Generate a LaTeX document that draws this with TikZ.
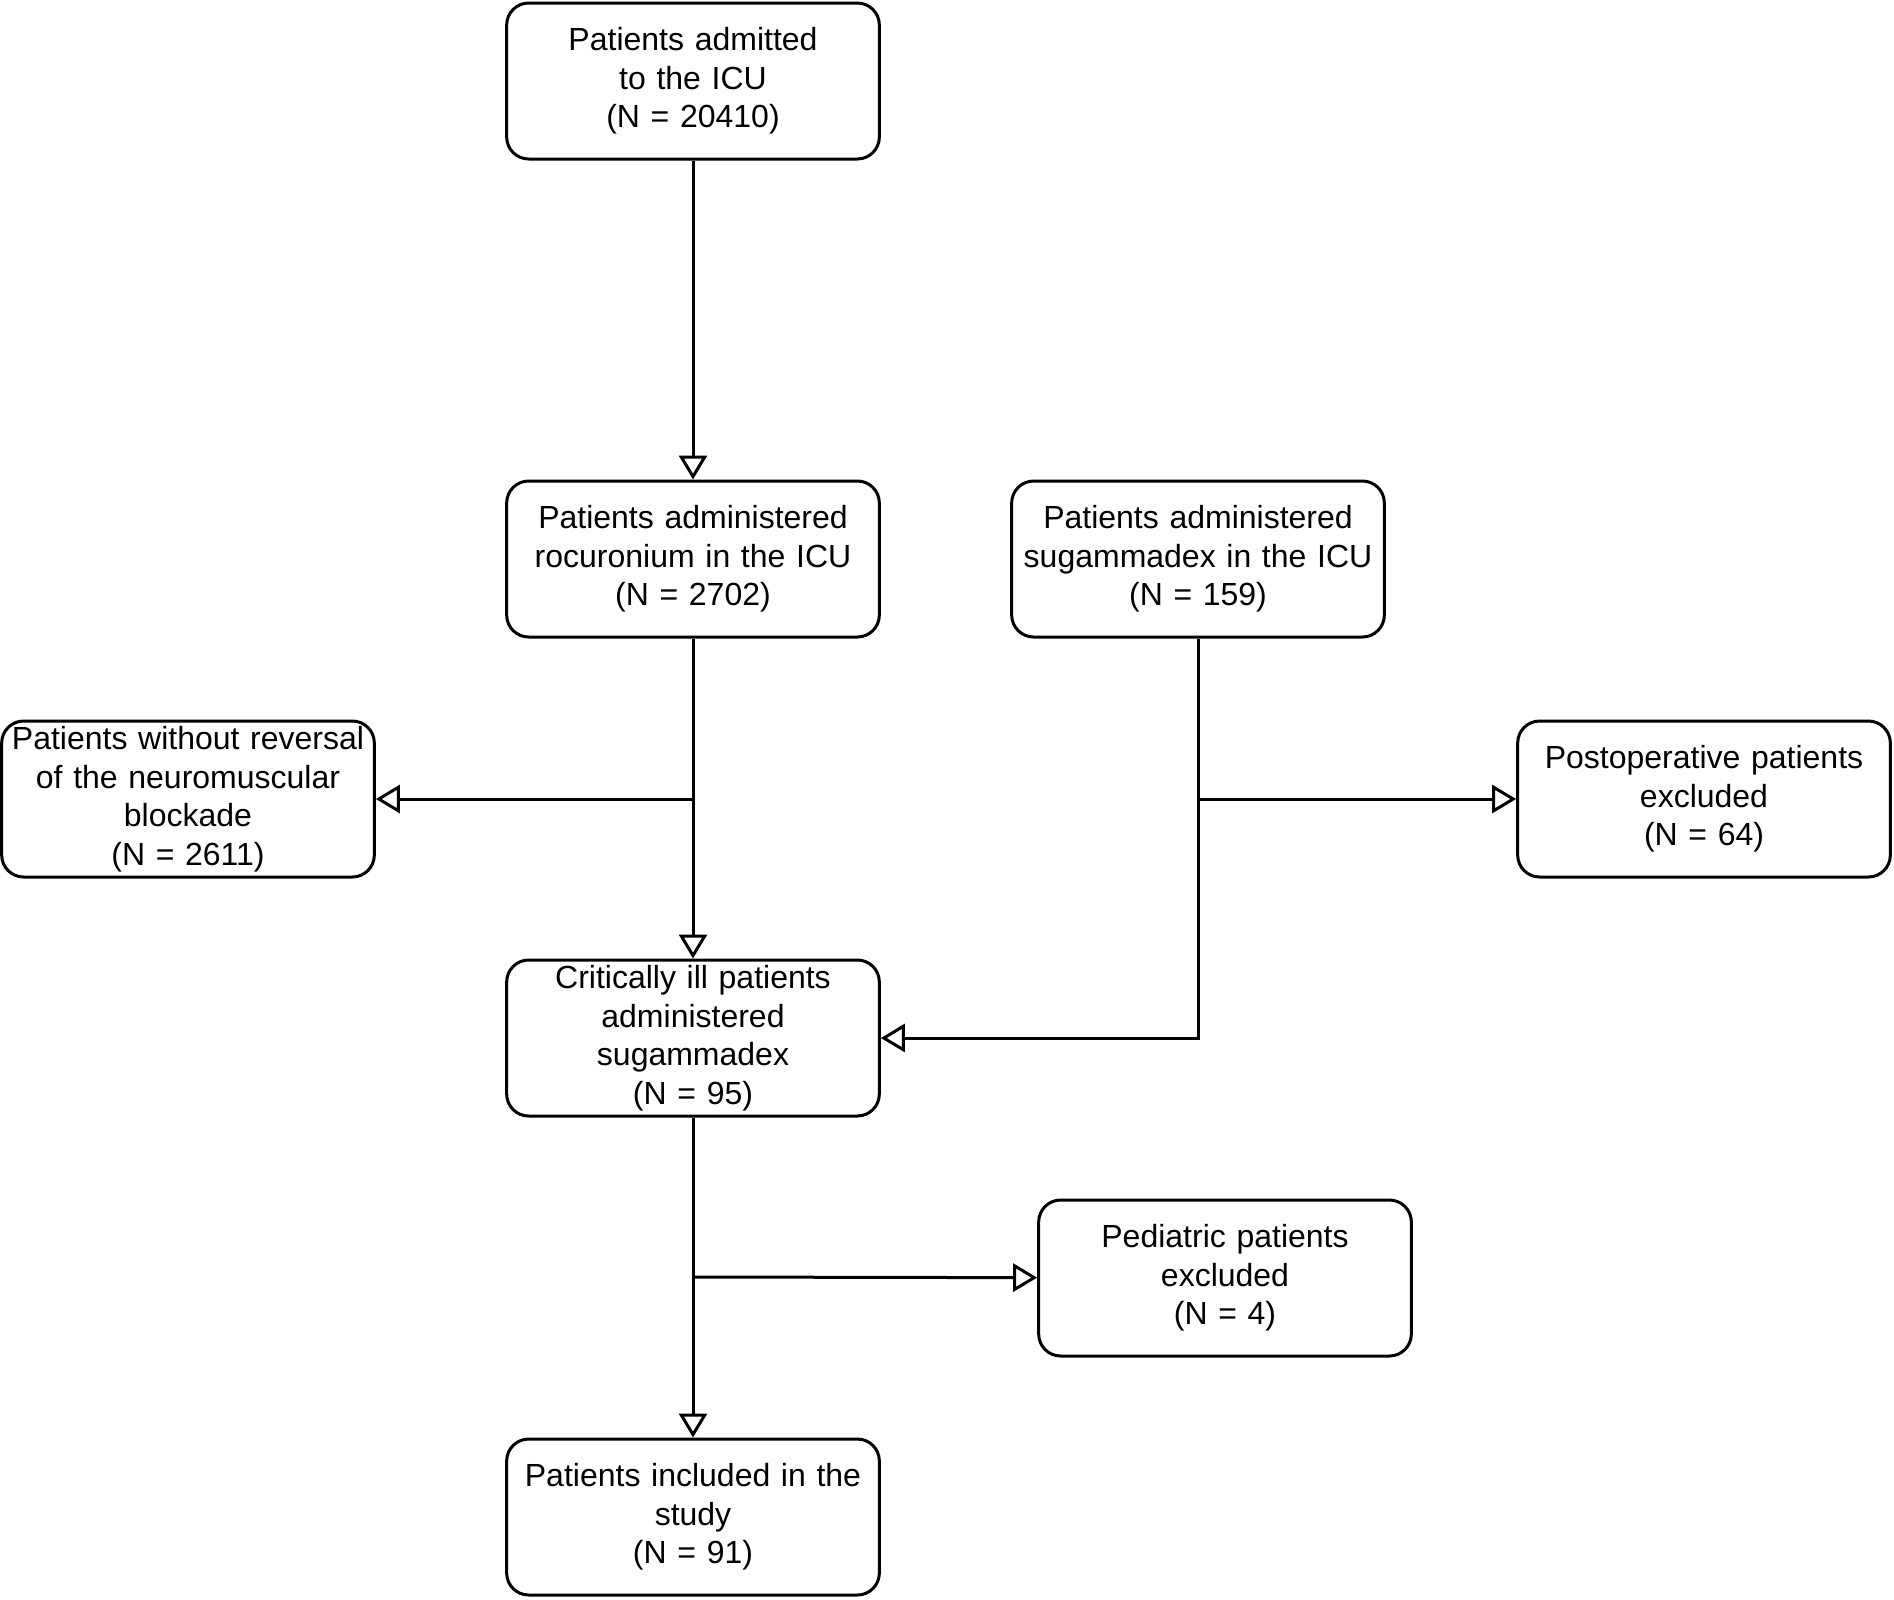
\documentclass[tikz,border=0pt]{standalone}
\usepackage{fontspec}
\setmainfont{Liberation Sans}
\usetikzlibrary{positioning}
\usetikzlibrary{arrows.meta}

\begin{document}
\begin{tikzpicture}[x=1pt, y=-1pt,
  box/.style={draw, line width=3pt, rounded corners=22pt, minimum width=370pt,
    minimum height=156pt, text width=366pt, align=center,
    font=\fontsize{32}{38.5}\selectfont},
  flow/.style={line width=3pt, -{Triangle[open, length=24pt, width=28pt, line width=3pt]}}]

\useasboundingbox (0,0) rectangle (1894,1599);

\node (T) at (693, 81) [box] {Patients admitted\\to the ICU\\(N = 20410)};
\node (R) at (693, 559) [box] {Patients administered\\rocuronium in the ICU\\(N = 2702)};
\node (S) at (1198, 559) [box] {Patients administered\\sugammadex in the ICU\\(N = 159)};
\node (NR) at (188, 799) [box] {Patients without reversal\\of the neuromuscular\\blockade\\(N = 2611)};
\node (PO) at (1704, 799) [box] {Postoperative patients\\excluded\\(N = 64)};
\node (C) at (693, 1038) [box] {Critically ill patients\\administered\\sugammadex\\(N = 95)};
\node (PE) at (1225, 1278) [box] {Pediatric patients\\excluded\\(N = 4)};
\node (I) at (693, 1517) [box] {Patients included in the\\study\\(N = 91)};

\coordinate (RB) at (693, 799);
\coordinate (SB) at (1198, 799);
\coordinate (SC) at (1198, 1038);
\coordinate (CB) at (693, 1277);

\path[flow] (T) edge (R);
\path[flow] (R) edge (C);
\path[flow] (RB) edge (NR);
\path[flow] (SB) edge (PO);
\draw[flow] (S) -- (SC) -- (C);
\path[flow] (C) edge (I);
\path[flow] (CB) edge (PE);
\end{tikzpicture}
\end{document}
